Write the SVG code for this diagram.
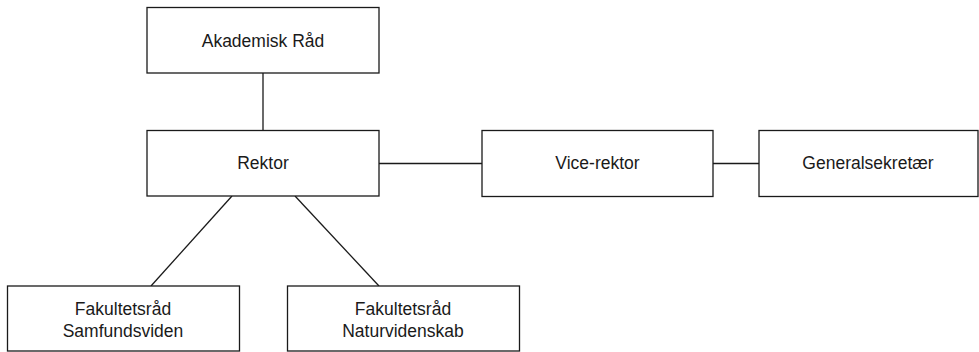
<svg xmlns="http://www.w3.org/2000/svg" width="979" height="352" viewBox="0 0 979 352">
<style>
.box{fill:#fff;stroke:#1a1a1a;stroke-width:1.3}
.ln{stroke:#1a1a1a;stroke-width:1.3;fill:none}
text{font-family:"Liberation Sans",Arial,sans-serif;font-size:17.5px;fill:#1a1a1a;text-anchor:middle}
</style>
<rect width="979" height="352" fill="#fff"/>
<g id="connectors">
<line class="ln" x1="263" y1="73" x2="263" y2="130"/>
<line class="ln" x1="379" y1="163.5" x2="482" y2="163.5"/>
<line class="ln" x1="713" y1="163.5" x2="759" y2="163.5"/>
<line class="ln" x1="232" y1="196" x2="151" y2="286"/>
<line class="ln" x1="295" y1="196" x2="379" y2="286"/>
</g>
<g id="akademisk">
<rect class="box" x="147" y="7.5" width="232" height="65.5"/>
<text x="263" y="47">Akademisk Råd</text>
</g>
<g id="rektor">
<rect class="box" x="147" y="130.5" width="232" height="65.5"/>
<text x="263" y="169">Rektor</text>
</g>
<g id="vicerektor">
<rect class="box" x="482" y="130.5" width="231" height="66"/>
<text x="597.5" y="169">Vice-rektor</text>
</g>
<g id="generalsekretaer">
<rect class="box" x="759" y="130.5" width="219" height="66"/>
<text x="868" y="169">Generalsekretær</text>
</g>
<g id="fak-samfund">
<rect class="box" x="7.5" y="286" width="232" height="65"/>
<text x="123" y="315">Fakultetsråd</text>
<text x="123" y="337">Samfundsviden</text>
</g>
<g id="fak-natur">
<rect class="box" x="287.5" y="286" width="232" height="65"/>
<text x="403" y="315">Fakultetsråd</text>
<text x="403" y="337">Naturvidenskab</text>
</g>
</svg>
